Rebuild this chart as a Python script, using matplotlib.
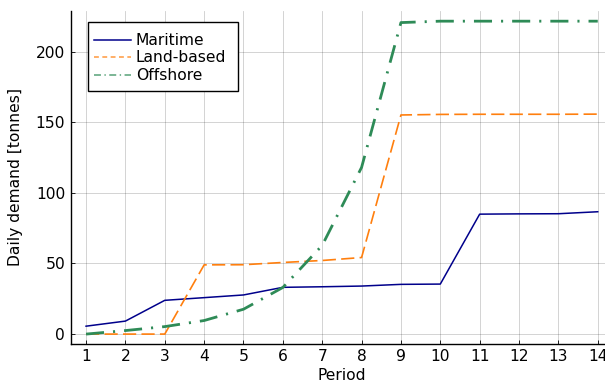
import matplotlib
matplotlib.use("Agg")
import matplotlib.pyplot as plt
from matplotlib.lines import Line2D
from matplotlib.patches import Rectangle

periods = list(range(1, 15))
maritime = [5.6, 9.2, 23.9, 25.8, 27.7, 33.1, 33.5, 34.0, 35.2, 35.4, 84.9, 85.1, 85.2, 86.6]
land_based = [0.0, 0.0, 0.0, 49.0, 49.1, 50.7, 52.1, 54.2, 155.1, 155.5, 155.6, 155.6, 155.6, 155.7]
offshore = [0.0, 2.5, 5.3, 9.6, 17.6, 33.0, 62.8, 118.0, 220.5, 221.5, 221.5, 221.5, 221.5, 221.5]
series_names = ["Maritime", "Land-based", "Offshore"]
colors = ["#00008b", "#ff7f0e", "#2e8b57"]

plt.rcParams['font.family'] = ['DejaVu Sans']
plt.rcParams['lines.scale_dashes'] = False

FS = 11.2
W, H = 605, 385
fig = plt.figure(figsize=(W / 100, H / 100), dpi=100)
left = 70.7 / W
bottom = 1 - 343.5 / H
top = 1 - 11 / H
width = (613.1 - 70.7) / W
ax = fig.add_axes([left, bottom, width, top - bottom])

ax.plot(periods, maritime, color=colors[0], lw=1.1, solid_joinstyle='round')
ax.plot(periods, land_based, color=colors[1], lw=1.2, dashes=(9.5, 3.8))
ax.plot(periods, offshore, color=colors[2], lw=2.0, dashes=(13, 6.5, 1.5, 6.5))

ax.set_xlim(0.61, 14.39)
ax.set_ylim(-6.66, 228.7)
ax.set_xticks(periods)
ax.set_yticks([0, 50, 100, 150, 200])
ax.grid(True, color='black', alpha=0.2, lw=0.6)
ax.set_axisbelow(True)
for s in ['top', 'right']:
    ax.spines[s].set_visible(False)
for s in ['left', 'bottom']:
    ax.spines[s].set_linewidth(1.0)
ax.tick_params(direction='in', length=3, width=0.6, labelsize=FS, pad=4)
ax.set_xlabel("Period", fontsize=FS, labelpad=3)
ax.set_ylabel("Daily demand [tonnes]", fontsize=FS, labelpad=9)

# legend frame
frame = Rectangle((88.3 / W, 1 - 91 / H), (237.7 - 88.3) / W, (91 - 21.7) / H,
                  transform=fig.transFigure, facecolor='white', edgecolor='black',
                  lw=1.0, zorder=4)
fig.add_artist(frame)

handles = [
    Line2D([], [], color=colors[0], lw=1.1),
    Line2D([], [], color=colors[1], lw=1.1, dashes=(3.5, 2.5), alpha=0.8),
    Line2D([], [], color=colors[2], lw=1.1, dashes=(5, 2.5, 1, 2.5), alpha=0.8),
]
leg = fig.legend(handles, series_names, loc='upper left',
                 bbox_to_anchor=(94.3 / W, 1 - 33.0 / H), bbox_transform=fig.transFigure,
                 fontsize=FS, frameon=False,
                 handlelength=2.34, handletextpad=0.34, borderpad=0.0,
                 labelspacing=0.16, borderaxespad=0.0)
leg.set_zorder(5)

fig.savefig("out.png", dpi=100)
